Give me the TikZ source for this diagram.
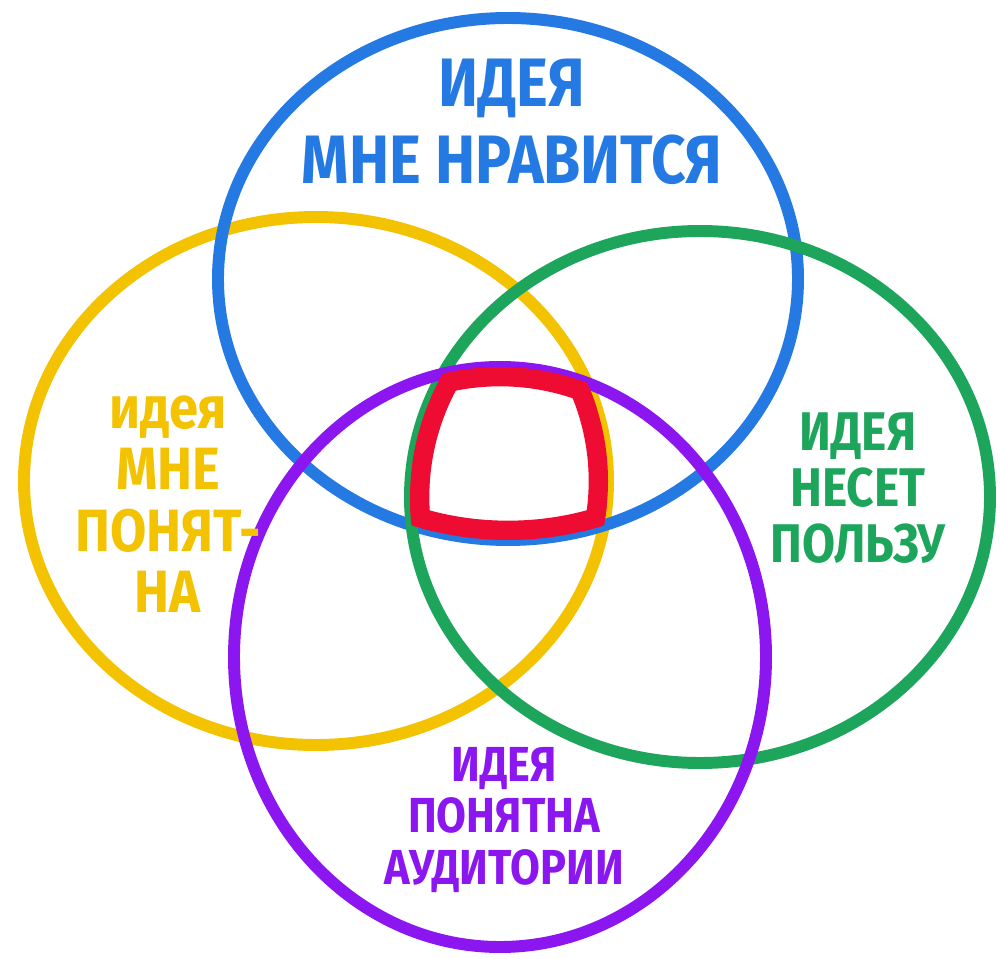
\documentclass[tikz,border=0pt]{standalone}
\usepackage{fontspec}
\setmainfont{Fira Sans}[FakeStretch=0.88]
\usepackage{xcolor}
\usepackage{tikz}

\definecolor{ideablue}{RGB}{36,121,226}
\definecolor{ideayellow}{RGB}{243,194,0}
\definecolor{ideagreen}{RGB}{30,165,92}
\definecolor{ideapurple}{RGB}{139,22,240}
\definecolor{ideared}{RGB}{238,12,50}

\def\ovalblue{(508,-279) ellipse [x radius=290, y radius=261]}
\def\ovalyellow{(316,-481) ellipse [x radius=292, y radius=264]}
\def\ovalgreen{(700,-497) ellipse [x radius=290, y radius=266]}
\def\ovalpurple{(500,-657) ellipse [x radius=266, y radius=290]}

\begin{document}
\begin{tikzpicture}[x=0.02cm, y=0.02cm,
  ring/.style={line width=6.8pt},
  core/.style={line width=22pt, ideared},
  every node/.append style={align=center, inner sep=0pt, font=\bfseries}]
\useasboundingbox (0,0) rectangle (1000,-959);
\fill[white] (0,0) rectangle (1000,-959);
\draw[ring, ideayellow] \ovalyellow;
\draw[ring, ideablue] \ovalblue;
\draw[ring, ideagreen] \ovalgreen;
\draw[ring, ideapurple] \ovalpurple;
\begin{scope}
  \clip \ovalblue;
  \clip \ovalyellow;
  \clip \ovalgreen;
  \clip \ovalpurple;
  \draw[core] \ovalblue;
  \draw[core] \ovalyellow;
  \draw[core] \ovalgreen;
  \draw[core] \ovalpurple;
\end{scope}
\node[text=ideablue, font=\bfseries\fontsize{39}{44}\selectfont] (like) at (512,-122) {ИДЕЯ\\МНЕ НРАВИТСЯ};
\node[text=ideayellow, font=\bfseries\fontsize{34}{35}\selectfont] (clear) at (168,-504) {идея\\МНЕ\\ПОНЯТ-\\НА};
\node[text=ideagreen, font=\bfseries\fontsize{31}{32}\selectfont] (useful) at (858,-488) {ИДЕЯ\\НЕСЕТ\\ПОЛЬЗУ};
\node[text=ideapurple, font=\bfseries\fontsize{28}{29.5}\selectfont] (audience) at (504,-820) {ИДЕЯ\\ПОНЯТНА\\АУДИТОРИИ};
\end{tikzpicture}
\end{document}
